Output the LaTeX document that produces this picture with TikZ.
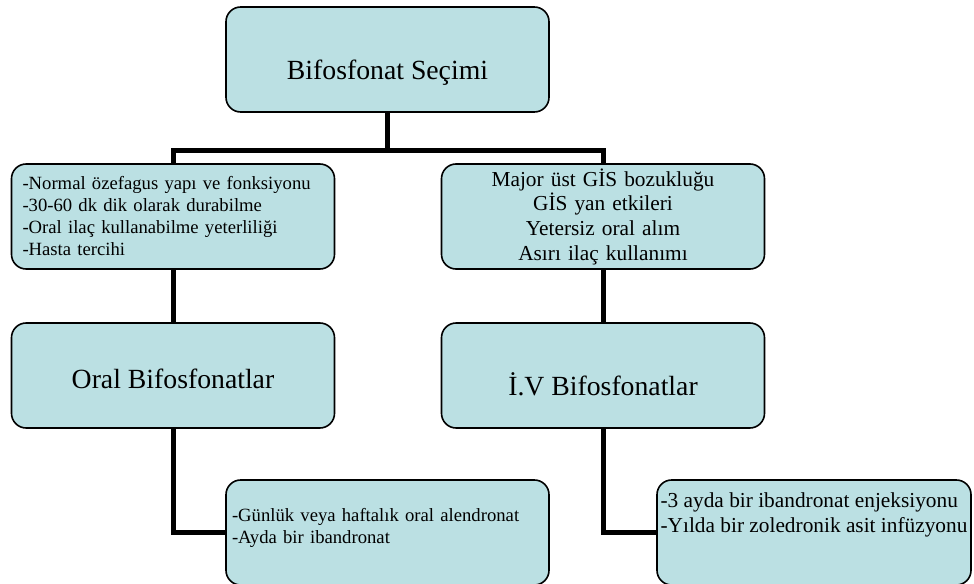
\documentclass[tikz,border=0pt]{standalone}
\usepackage{fontspec}
\setmainfont{Liberation Serif}
\definecolor{kutu}{RGB}{187,224,227}

\begin{document}
\begin{tikzpicture}[x=0.75pt, y=-0.75pt,
      box/.style={draw=black, line width=1.2pt, rounded corners=11pt, fill=kutu,
                  minimum width=242.25pt, minimum height=78.75pt, align=center,
                  font=\fontsize{20.8}{25}\selectfont},
      liste/.style={box, align=left, font=\fontsize{14}{16.5}\selectfont},
      baglanti/.style={line width=3.75pt, draw=black}]

    \useasboundingbox (0,0) rectangle (974,584);

    \node[box, text height=30.75pt, text depth=0pt] (secim) at (387.5,59.5) {Bifosfonat Seçimi};

    \node[liste, text width=225.75pt, inner xsep=8.25pt] (oralkosul) at (173,216.5)
      {-Normal özefagus yapı ve fonksiyonu\\-30-60 dk dik olarak durabilme\\-Oral ilaç kullanabilme yeterliliği\\-Hasta tercihi};
    \node[box, text width=225.75pt, font=\fontsize{16}{18.5}\selectfont] (ivkosul) at (603,216.5)
      {Major üst GİS bozukluğu\\GİS yan etkileri\\Yetersiz oral alım\\Asırı ilaç kullanımı};

    \node[box, text height=18.75pt, text depth=0pt] (oral) at (173,375.5) {Oral Bifosfonatlar};
    \node[box, text height=30.75pt, text depth=0pt] (iv) at (603,375.5) {İ.V Bifosfonatlar};

    \node[liste, text width=233.25pt, inner xsep=4.5pt, text height=10pt, text depth=27.25pt]
      (oralilac) at (387.5,532.5) {-Günlük veya haftalık oral alendronat\\-Ayda bir ibandronat};
    \node[liste, minimum width=235.5pt, inner xsep=0.75pt,
          font=\fontsize{16}{18.5}\selectfont, text height=30pt, text depth=30pt]
      (ivilac) at (814,532.5) {-3 ayda bir ibandronat enjeksiyonu\\-Yılda bir zoledronik asit infüzyonu};

    \draw[baglanti] (secim.south) -- ++(0,38) -| (oralkosul.north);
    \draw[baglanti] (secim.south) -- ++(0,38) -| (ivkosul.north);
    \draw[baglanti] (oralkosul) -- (oral);
    \draw[baglanti] (ivkosul) -- (iv);
    \draw[baglanti] (oral.south) |- (oralilac.west);
    \draw[baglanti] (iv.south) |- (ivilac.west);
  \end{tikzpicture}
\end{document}
